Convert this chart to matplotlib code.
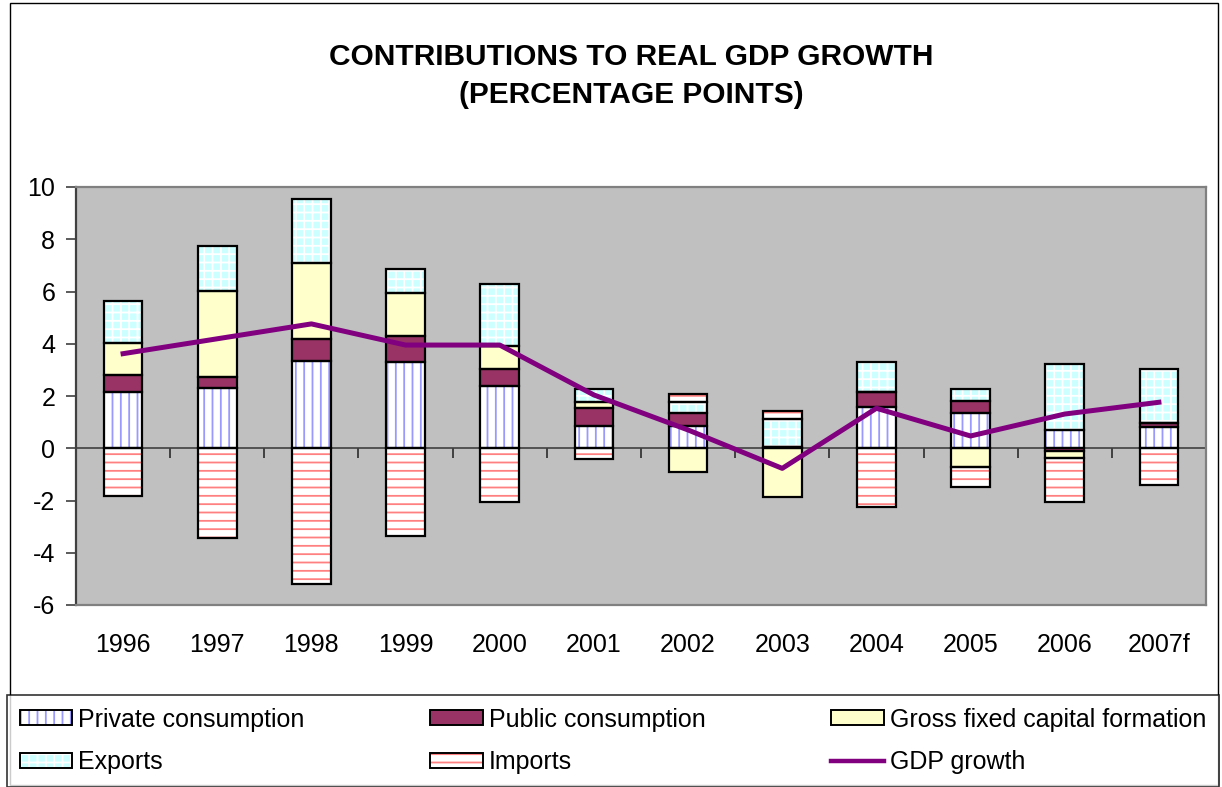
import numpy as np
import matplotlib
matplotlib.use('Agg')
import matplotlib.pyplot as plt
from matplotlib.patches import Patch, Rectangle
from matplotlib.lines import Line2D

plt.rcParams['font.family'] = 'Liberation Sans'
plt.rcParams['hatch.linewidth'] = 1.3
plt.rcParams['axes.unicode_minus'] = False

# Data (percentage points)
years = ['1996', '1997', '1998', '1999', '2000', '2001', '2002', '2003',
         '2004', '2005', '2006', '2007f']
private = [2.17, 2.31, 3.35, 3.29, 2.37, 0.85, 0.87, 0.03, 1.59, 1.36, 0.70, 0.83]
public = [0.63, 0.42, 0.83, 1.02, 0.66, 0.68, 0.47, 0.03, 0.56, 0.46, -0.10, 0.12]
gfcf = [1.22, 3.29, 2.90, 1.64, 0.90, 0.25, -0.90, -1.88, 0.02, -0.73, -0.28, 0.02]
exports = [1.63, 1.73, 2.45, 0.91, 2.36, 0.47, 0.42, 1.05, 1.15, 0.44, 2.53, 2.08]
imports = [-1.82, -3.42, -5.20, -3.35, -2.04, -0.43, 0.32, 0.33, -2.26, -0.74, -1.67, -1.41]
gdp = [3.62, 4.19, 4.76, 3.95, 3.95, 2.04, 0.70, -0.77, 1.53, 0.47, 1.31, 1.76]

# name, values, face colour, hatch, hatch colour
series = [
    ('Private consumption', private, 'white', '||', '#9999FF'),
    ('Public consumption', public, '#993366', '', '#993366'),
    ('Gross fixed capital formation', gfcf, '#FFFFCC', '', '#FFFFCC'),
    ('Exports', exports, '#CCFFFF', '++', 'white'),
    ('Imports', imports, 'white', '--', '#FF8080'),
]

fig = plt.figure(figsize=(12.22, 7.87), dpi=100)
ax = fig.add_axes([76 / 1222, 1 - 605 / 787, 1130 / 1222, 418 / 787])
ax.set_facecolor('#C0C0C0')

x = np.arange(len(years))
width = 0.41
pos_bottom = np.zeros(len(years))
neg_bottom = np.zeros(len(years))
handles = {}
for name, vals, face, hatch, hcol in series:
    vals = np.array(vals)
    bottom = np.where(vals >= 0, pos_bottom, neg_bottom)
    ax.bar(x, vals, width, bottom=bottom, color=face, edgecolor=hcol,
           hatch=hatch, linewidth=0, zorder=2)
    ax.bar(x, vals, width, bottom=bottom, fill=False, edgecolor='black',
           linewidth=1.6, zorder=3)
    pos_bottom += np.where(vals >= 0, vals, 0)
    neg_bottom += np.where(vals < 0, vals, 0)
    handles[name] = (Patch(facecolor=face, edgecolor=hcol, hatch=hatch, linewidth=0),
                     Patch(fill=False, edgecolor='black', linewidth=1.4))

ax.plot(x, gdp, color='#800080', linewidth=3.6, zorder=4, solid_joinstyle='round')
handles['GDP growth'] = Line2D([], [], color='#800080', linewidth=3.2)

# zero line with Excel-style category ticks
ax.axhline(0, color='#404040', linewidth=1.2, zorder=1)
ax.plot(np.arange(len(years) + 1) - 0.5, np.zeros(len(years) + 1), linestyle='none',
        marker=3, markersize=7, markeredgewidth=1.4, color='#404040', zorder=1)

ax.set_xlim(-0.5, len(years) - 0.5)
ax.set_ylim(-6, 10)
ax.set_yticks(np.arange(-6, 11, 2))
ax.set_xticks(x)
ax.set_xticklabels(years)
ax.tick_params(axis='x', length=0, pad=20, labelsize=18)
ax.tick_params(axis='y', length=7, width=1.2, color='#404040', pad=8, labelsize=18)
for side in ['left', 'right', 'top', 'bottom']:
    ax.spines[side].set_color('#808080')
    ax.spines[side].set_linewidth(1.6)
ax.spines['left'].set_color('#404040')

fig.text(631 / 1222, 1 - 76 / 787, 'CONTRIBUTIONS TO REAL GDP GROWTH\n(PERCENTAGE POINTS)',
         ha='center', va='center', fontsize=21.5, fontweight='bold', linespacing=1.45)

# outer chart border
fig.add_artist(Rectangle((10 / 1222, 0.002), 1208 / 1222, 0.994, transform=fig.transFigure,
                         fill=False, edgecolor='black', linewidth=1.0))

order = ['Private consumption', 'Exports', 'Public consumption', 'Imports',
         'Gross fixed capital formation', 'GDP growth']
leg = fig.legend([handles[k] for k in order], order, ncol=3, loc='lower left',
                 bbox_to_anchor=(7 / 1222, 0.0, 1212 / 1222, 97 / 787), mode='expand',
                 fontsize=18, frameon=True, fancybox=False, edgecolor='black',
                 handlelength=2.1, handleheight=0.55, handletextpad=0.25,
                 labelspacing=0.75, borderaxespad=0.0, borderpad=0.5)
leg.get_frame().set_linewidth(1.2)

fig.savefig('out.png', dpi=100)
